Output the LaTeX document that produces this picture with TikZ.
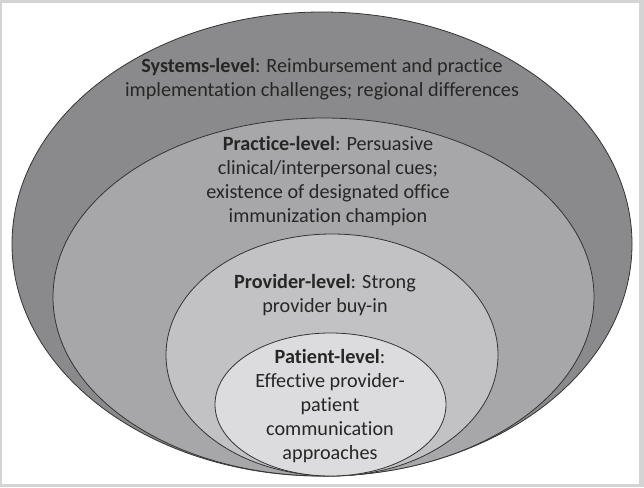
\documentclass[tikz,border=0pt]{standalone}
\usepackage{fontspec}
\setmainfont{Carlito}[Ligatures=NoCommon]
\usetikzlibrary{shapes,positioning,backgrounds}

\definecolor{framegray}{HTML}{D4D4D4}
\definecolor{sysgray}{HTML}{8A8A8C}
\definecolor{pracgray}{HTML}{A7A7A9}
\definecolor{provgray}{HTML}{C2C2C4}
\definecolor{patgray}{HTML}{DCDCDE}
\definecolor{textgray}{HTML}{262626}

\begin{document}
\begin{tikzpicture}[x=1pt, y=-1pt,
  level/.style={ellipse, draw=black!80, line width=0.8pt, inner sep=0pt, outer sep=0pt},
  levtext/.style={align=center, text=textgray, font=\fontsize{20.2}{24}\selectfont}]
  \useasboundingbox (0,0) rectangle (644,487);
  \fill[framegray] (0,0) rectangle (644,487);
  \fill[white] (2,3) rectangle (639,484);

  % nested levels, all touching at the bottom
  \node[level, fill=sysgray, minimum width=620pt, minimum height=464pt] (sys) at (322,244) {};
  \node[level, fill=pracgray, minimum width=541pt, minimum height=358pt] (prac) at (323.5,297) {};
  \node[level, fill=provgray, minimum width=332pt, minimum height=242pt] (prov) at (332,355) {};
  \node[level, fill=patgray, minimum width=231pt, minimum height=143pt] (pat) at (330.5,404.5) {};

  \node[levtext] (systxt) at (322,79) {\textbf{Systems-level}: Reimbursement and practice\\implementation challenges; regional differences};
  \node[levtext] (practxt) at (328,181) {\textbf{Practice-level}: Persuasive\\clinical/interpersonal cues;\\existence of designated office\\immunization champion};
  \node[levtext] (provtxt) at (325,295) {\textbf{Provider-level}: Strong\\provider buy-in};
  \node[levtext] (pattxt) at (330,406) {\textbf{Patient-level}:\\Effective provider-\\patient\\communication\\approaches};
\end{tikzpicture}
\end{document}
